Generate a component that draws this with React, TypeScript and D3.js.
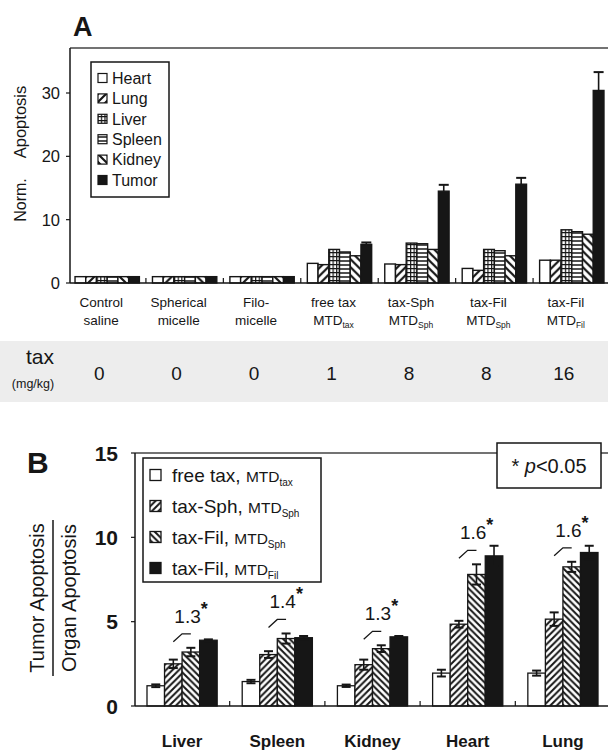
import React from "react";
import * as d3 from "d3";

// ---------- Panel A data ----------
const groupsA = ["ctrl", "sph", "filo", "free", "taxSph", "taxFilSph", "taxFilFil"];
const labelTopA = ["Control", "Spherical", "Filo-", "free tax", "tax-Sph", "tax-Fil", "tax-Fil"];
const labelBottomA = ["saline", "micelle", "micelle", "MTD", "MTD", "MTD", "MTD"];
const labelSubA = ["", "", "", "tax", "Sph", "Sph", "Fil"];
const taxDose = ["0", "0", "0", "1", "8", "8", "16"];
const organsA = ["Heart", "Lung", "Liver", "Spleen", "Kidney", "Tumor"];
const heartA = [1, 1, 1, 3.1, 3.0, 2.3, 3.6];
const lungA = [1, 1, 1, 2.9, 2.9, 2.0, 3.6];
const liverA = [1, 1, 1, 5.3, 6.3, 5.3, 8.4];
const spleenA = [1, 1, 1, 4.9, 6.2, 5.1, 8.1];
const kidneyA = [1, 1, 1, 4.3, 5.3, 4.3, 7.7];
const tumorA = [1, 1, 1, 6.1, 14.5, 15.6, 30.4];
const tumorErrA = [0, 0, 0, 0.3, 1.0, 1.0, 2.9];
const ticksA = [0, 10, 20, 30];

// ---------- Panel B data ----------
const organsB = ["Liver", "Spleen", "Kidney", "Heart", "Lung"];
const seriesB = ["freeTax", "taxSph", "taxFilSph", "taxFilFil"];
const seriesNameB = ["free tax, ", "tax-Sph, ", "tax-Fil, ", "tax-Fil, "];
const seriesSubB = ["tax", "Sph", "Sph", "Fil"];
const freeTaxB = [1.2, 1.45, 1.2, 1.95, 1.95];
const freeTaxErrB = [0.08, 0.1, 0.07, 0.2, 0.15];
const taxSphB = [2.5, 3.05, 2.45, 4.85, 5.15];
const taxSphErrB = [0.25, 0.2, 0.3, 0.2, 0.4];
const taxFilSphB = [3.2, 4.0, 3.4, 7.8, 8.25];
const taxFilSphErrB = [0.25, 0.3, 0.2, 0.6, 0.3];
const taxFilFilB = [3.9, 4.05, 4.1, 8.9, 9.1];
const taxFilFilErrB = [0.05, 0.1, 0.05, 0.6, 0.4];
const ratioB = ["1.3", "1.4", "1.3", "1.6", "1.6"];
const ticksB = [0, 5, 10, 15];

const FONT = "'Liberation Sans', Arial, Helvetica, sans-serif";
const INK = "#161616";

function slash(s: number) {
  return `M0,${s} L${s},0 M${-s / 2},${s / 2} L${s / 2},${-s / 2} M${s / 2},${s * 1.5} L${s * 1.5},${s / 2}`;
}
function backslash(s: number) {
  return `M0,0 L${s},${s} M${-s / 2},${s / 2} L${s / 2},${s * 1.5} M${s / 2},${-s / 2} L${s * 1.5},${s / 2}`;
}

export default function App() {
  const W = 608, H = 752;

  // ----- Panel A scales -----
  const axA = 70, topA = 48, baseA = 283, rightA = 609;
  const yA = d3.scaleLinear().domain([0, 30]).range([baseA, 93]);
  const xA = d3.scaleBand<string>().domain(groupsA).range([axA, rightA]).paddingInner(0.169).paddingOuter(0.065);
  const xSubA = d3.scaleBand<string>().domain(organsA).range([0, xA.bandwidth()]);
  const valuesA = [heartA, lungA, liverA, spleenA, kidneyA, tumorA];
  const fillsA = ["#fff", "url(#aLung)", "url(#aLiver)", "url(#aSpleen)", "url(#aKidney)", INK];
  const gapA = xA.step() * xA.paddingInner();

  // ----- Panel B scales -----
  const axB = 135, topB = 453, baseB = 706, rightB = 610;
  const yB = d3.scaleLinear().domain([0, 15]).range([baseB, topB]);
  const xB = d3.scaleBand<string>().domain(organsB).range([axB, rightB]).paddingInner(0.263).paddingOuter(0.126);
  const xSubB = d3.scaleBand<string>().domain(seriesB).range([0, xB.bandwidth()]);
  const valuesB = [freeTaxB, taxSphB, taxFilSphB, taxFilFilB];
  const errsB = [freeTaxErrB, taxSphErrB, taxFilSphErrB, taxFilFilErrB];
  const fillsB = ["#fff", "url(#bSph)", "url(#bFil)", INK];
  const gapB = xB.step() * xB.paddingInner();

  return (
    <svg width={W} height={H} viewBox={`0 0 ${W} ${H}`} style={{ position: "absolute", left: 0, top: 0, background: "#fff" }} fontFamily={FONT}>
      <defs>
        <pattern id="aLung" patternUnits="userSpaceOnUse" width={8} height={8}>
          <rect width={8} height={8} fill="#fff" />
          <path d={slash(8)} stroke={INK} strokeWidth={2.2} />
        </pattern>
        <pattern id="aKidney" patternUnits="userSpaceOnUse" width={8} height={8}>
          <rect width={8} height={8} fill="#fff" />
          <path d={backslash(8)} stroke={INK} strokeWidth={2.2} />
        </pattern>
        <pattern id="aLiver" patternUnits="userSpaceOnUse" width={3.6} height={4}>
          <rect width={3.6} height={4} fill="#fff" />
          <path d="M0,0.6 H3.6 M0.6,0 V4" stroke={INK} strokeWidth={1.2} />
        </pattern>
        <pattern id="aSpleen" patternUnits="userSpaceOnUse" width={4} height={4}>
          <rect width={4} height={4} fill="#fff" />
          <path d="M0,1 H4" stroke={INK} strokeWidth={1.5} />
        </pattern>
        <pattern id="bSph" patternUnits="userSpaceOnUse" width={6.5} height={6.5}>
          <rect width={6.5} height={6.5} fill="#fff" />
          <path d={slash(6.5)} stroke={INK} strokeWidth={2} />
        </pattern>
        <pattern id="bFil" patternUnits="userSpaceOnUse" width={6.5} height={6.5}>
          <rect width={6.5} height={6.5} fill="#fff" />
          <path d={backslash(6.5)} stroke={INK} strokeWidth={2} />
        </pattern>
      </defs>

      {/* ================= Panel A ================= */}
      <text x={73} y={36} fontSize={27} fontWeight="bold" fill={INK}>A</text>

      {/* y axis label */}
      <g transform="translate(26,152) rotate(-90)">
        <text x={30} y={0} fontSize={16.5} textAnchor="middle" fill={INK}>Apoptosis</text>
        <text x={-48} y={0} fontSize={16} textAnchor="middle" fill={INK}>Norm.</text>
      </g>

      {/* frame */}
      <path d={`M${axA},${topA} H${W}`} stroke="#444" strokeWidth={1.5} fill="none" />
      <path d={`M${axA},${topA} V${baseA}`} stroke={INK} strokeWidth={1.5} fill="none" />

      {ticksA.map((t) => (
        <g key={t}>
          <line x1={axA - 4} x2={axA} y1={yA(t)} y2={yA(t)} stroke={INK} strokeWidth={1.2} />
          <text x={60} y={yA(t)} dy="0.36em" fontSize={16.5} textAnchor="end" fill={INK}>{t}</text>
        </g>
      ))}

      {/* bars */}
      {groupsA.map((g, gi) => (
        <g key={g} transform={`translate(${xA(g)},0)`}>
          {organsA.map((o, oi) => {
            const v = valuesA[oi][gi];
            return (
              <rect key={o} x={xSubA(o)!} y={yA(v)} width={xSubA.bandwidth()} height={baseA - yA(v)}
                fill={fillsA[oi]} stroke={INK} strokeWidth={1.4} />
            );
          })}
          {tumorErrA[gi] > 0 && (() => {
            const cx = xSubA("Tumor")! + xSubA.bandwidth() / 2;
            const v = tumorA[gi], e = tumorErrA[gi];
            return (
              <g stroke={INK} strokeWidth={1.6}>
                <line x1={cx} x2={cx} y1={yA(v)} y2={yA(v + e)} />
                <line x1={cx - 5} x2={cx + 5} y1={yA(v + e)} y2={yA(v + e)} strokeWidth={2} />
              </g>
            );
          })()}
        </g>
      ))}
      {groupsA.slice(1).map((g) => (
        <line key={g} x1={xA(g)! - gapA / 2} x2={xA(g)! - gapA / 2} y1={baseA} y2={baseA - 5} stroke={INK} strokeWidth={1.2} />
      ))}
      <path d={`M${axA},${baseA} H${W}`} stroke={INK} strokeWidth={1.5} fill="none" />

      {/* legend A */}
      <rect x={91} y={62} width={78} height={135} fill="#fff" stroke={INK} strokeWidth={1.5} />
      {organsA.map((o, i) => {
        const cy = 78 + i * 20.4;
        return (
          <g key={o}>
            <rect x={98} y={cy - 4.5} width={9} height={9} fill={fillsA[i]} stroke={INK} strokeWidth={1.2} />
            <text x={112} y={cy} dy="0.36em" fontSize={16} fill={INK}>{o}</text>
          </g>
        );
      })}

      {/* x labels A */}
      {groupsA.map((g, i) => {
        const cx = xA(g)! + xA.bandwidth() / 2 - 6;
        return (
          <g key={g} fill={INK} fontSize={13.5} textAnchor="middle">
            <text x={cx} y={307}>{labelTopA[i]}</text>
            <text x={cx} y={325}>
              <tspan>{labelBottomA[i]}</tspan>
              {labelSubA[i] && <tspan fontSize={8.5} dy={3}>{labelSubA[i]}</tspan>}
            </text>
          </g>
        );
      })}

      {/* tax dose row */}
      <rect x={0} y={341} width={W} height={61} fill="#ededed" />
      <text x={40} y={364} fontSize={21} textAnchor="middle" fill={INK}>tax</text>
      <text x={33} y={388} fontSize={12.5} textAnchor="middle" fill={INK}>(mg/kg)</text>
      {groupsA.map((g, i) => (
        <text key={g} x={xA(g)! + xA.bandwidth() / 2 - 8} y={380} fontSize={19} textAnchor="middle" fill={INK}>{taxDose[i]}</text>
      ))}

      {/* ================= Panel B ================= */}
      <text x={27} y={473} fontSize={30} fontWeight="bold" fill={INK}>B</text>

      {/* y label fraction */}
      <g transform="translate(53,598) rotate(-90)">
        <text x={0} y={-9} fontSize={20} textAnchor="middle" fill={INK}>Tumor Apoptosis</text>
        <line x1={-78} x2={78} y1={0} y2={0} stroke={INK} strokeWidth={1.5} />
        <text x={0} y={23} fontSize={20} textAnchor="middle" fill={INK}>Organ Apoptosis</text>
      </g>

      <path d={`M${axB},${topB} H${W}`} stroke="#444" strokeWidth={1.5} fill="none" />
      <path d={`M${axB},${topB} V${baseB}`} stroke={INK} strokeWidth={1.5} fill="none" />
      {ticksB.map((t) => (
        <g key={t}>
          <line x1={axB - 4} x2={axB} y1={yB(t)} y2={yB(t)} stroke={INK} strokeWidth={1.2} />
          <text x={118} y={yB(t)} dy="0.36em" fontSize={21} fontWeight="bold" textAnchor="end" fill={INK}>{t}</text>
        </g>
      ))}

      {organsB.map((c, ci) => (
        <g key={c} transform={`translate(${xB(c)},0)`}>
          {seriesB.map((s, si) => {
            const v = valuesB[si][ci];
            return (
              <rect key={s} x={xSubB(s)!} y={yB(v)} width={xSubB.bandwidth()} height={baseB - yB(v)}
                fill={fillsB[si]} stroke={INK} strokeWidth={1.3} />
            );
          })}
          {seriesB.map((s, si) => {
            const v = valuesB[si][ci], e = errsB[si][ci];
            const cx = xSubB(s)! + xSubB.bandwidth() / 2;
            return (
              <g key={s} stroke={INK} strokeWidth={1.6}>
                <line x1={cx} x2={cx} y1={yB(v - e)} y2={yB(v + e)} />
                <line x1={cx - 4.5} x2={cx + 4.5} y1={yB(v + e)} y2={yB(v + e)} strokeWidth={2} />
                <line x1={cx - 4.5} x2={cx + 4.5} y1={yB(v - e)} y2={yB(v - e)} strokeWidth={2} />
              </g>
            );
          })}
          {(() => {
            const x1 = xSubB("taxSph")! + xSubB.bandwidth() / 2;
            const x2 = xSubB("taxFilSph")! + xSubB.bandwidth() / 2;
            const ly = yB(taxFilSphB[ci] + taxFilSphErrB[ci]) - 14;
            const xm = x1 + (x2 - x1) * 0.5;
            return (
              <g>
                <path d={`M${x1},${ly + 8} L${xm},${ly} H${x2}`} stroke={INK} strokeWidth={1.3} fill="none" />
                <text x={x1 + 1} y={ly - 11} fontSize={19} fill={INK}>
                  <tspan>{ratioB[ci]}</tspan>
                  <tspan fontSize={18} dy={-8} fontWeight="bold">*</tspan>
                </text>
              </g>
            );
          })()}
          <text x={xB.bandwidth() / 2} y={747} fontSize={17} fontWeight="bold" textAnchor="middle" fill={INK}>{c}</text>
        </g>
      ))}
      {organsB.slice(1).map((c) => (
        <line key={c} x1={xB(c)! - gapB / 2} x2={xB(c)! - gapB / 2} y1={baseB} y2={baseB - 5} stroke={INK} strokeWidth={1.2} />
      ))}
      <path d={`M${axB},${baseB} H${W}`} stroke={INK} strokeWidth={1.5} fill="none" />

      {/* legend B */}
      <rect x={143} y={458} width={178} height={124} fill="#fff" stroke={INK} strokeWidth={1.5} />
      {seriesB.map((s, i) => {
        const cy = 475 + i * 31;
        return (
          <g key={s}>
            <rect x={150} y={cy - 5.5} width={11} height={11} fill={fillsB[i]} stroke={INK} strokeWidth={1.3} />
            <text x={172} y={cy} dy="0.36em" fontSize={19} fill={INK}>
              <tspan>{seriesNameB[i]}</tspan>
              <tspan fontSize={15.5}>MTD</tspan>
              <tspan fontSize={10} dy={4}>{seriesSubB[i]}</tspan>
            </text>
          </g>
        );
      })}

      {/* p value box */}
      <rect x={497} y={443} width={104} height={45} fill="#fff" stroke={INK} strokeWidth={1.5} />
      <text x={549} y={466} dy="0.36em" fontSize={20} textAnchor="middle" fill={INK}>
        <tspan>* </tspan>
        <tspan fontStyle="italic">p</tspan>
        <tspan>&lt;0.05</tspan>
      </text>
    </svg>
  );
}
